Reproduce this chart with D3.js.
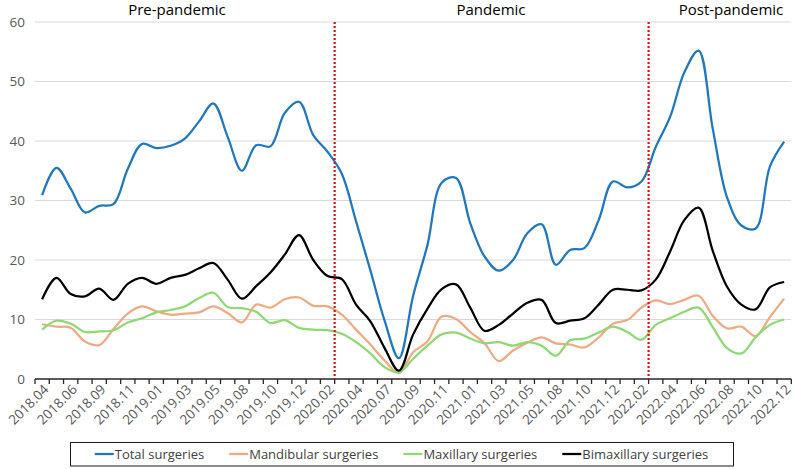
<!DOCTYPE html>
<html><head><meta charset="utf-8">
<script src="https://cdn.jsdelivr.net/npm/d3@7"></script>
<style>
html,body{margin:0;padding:0;background:#fff;}
svg{display:block;font-family:"Open Sans",sans-serif;}
</style></head>
<body><svg id="c" width="794" height="469"></svg>
<script>
const categories = ["2018.04","2018.05","2018.06","2018.08","2018.09","2018.10","2018.11","2018.12",
"2019.01","2019.02","2019.03","2019.04","2019.05","2019.07","2019.08","2019.09","2019.10","2019.11","2019.12",
"2020.01","2020.02","2020.03","2020.04","2020.06","2020.07","2020.08","2020.09","2020.10","2020.11","2020.12",
"2021.01","2021.02","2021.03","2021.04","2021.05","2021.07","2021.08","2021.09","2021.10","2021.11","2021.12",
"2022.01","2022.02","2022.03","2022.04","2022.05","2022.06","2022.07","2022.08","2022.09","2022.10","2022.11","2022.12"];
const tickLabels = categories.filter((d,i)=>i%2===0);
const total = [30.9,35.5,32.0,28.0,29.1,29.4,35.3,39.5,38.8,39.2,40.4,43.3,46.3,40.7,35.0,39.3,39.1,44.7,46.6,41.0,38.2,
34.5,26.5,18.3,9.8,3.5,14.0,22.5,33.0,33.8,26.2,20.6,18.2,20.0,24.5,26.0,19.2,21.7,22.0,26.7,33.2,32.2,33.2,
39.0,44.0,51.5,55.2,42.0,30.5,25.8,25.3,35.7,39.9];
const mandibular = [9.2,8.8,8.6,6.3,5.7,8.4,11.0,12.2,11.4,10.8,11.0,11.2,12.2,11.1,9.5,12.5,12.0,13.4,13.7,12.3,12.2,
10.8,8.3,5.8,3.1,1.0,4.5,6.3,10.5,10.1,7.9,6.0,3.0,4.8,6.1,7.0,6.0,5.8,5.3,7.0,9.3,9.9,12.0,13.2,12.6,13.3,14.0,10.6,8.5,8.8,7.2,10.4,13.5];
const maxillary = [8.3,9.8,9.3,7.9,8.0,8.2,9.5,10.2,11.2,11.6,12.2,13.6,14.5,12.1,11.9,11.3,9.4,9.9,8.6,8.3,8.2,
7.6,6.2,4.3,2.0,1.1,3.4,5.6,7.5,7.8,6.8,6.0,6.2,5.6,6.2,5.6,3.9,6.5,6.8,7.8,8.8,7.9,6.6,9.1,10.2,11.3,12.0,8.7,5.2,4.3,7.0,9.1,10.0];
const bimaxillary = [13.4,17.0,14.3,13.9,15.2,13.3,16.0,17.0,16.0,17.0,17.5,18.6,19.5,16.7,13.5,15.6,17.9,20.9,24.2,20.0,17.3,
16.8,12.5,9.7,5.2,1.4,7.5,11.8,15.1,15.9,12.0,8.1,9.1,11.0,12.8,13.3,9.4,9.8,10.2,12.5,15.0,15.0,14.9,16.7,21.4,26.7,28.8,21.5,15.5,12.5,11.7,15.4,16.3];
const seriesNames = ["Total surgeries","Mandibular surgeries","Maxillary surgeries","Bimaxillary surgeries"];
const seriesColors = ["#1f77c0","#f1a983","#8ed973","#000000"];
const yTicks = [0,10,20,30,40,50,60];
const periodNames = ["Pre-pandemic","Pandemic","Post-pandemic"];
const periodStarts = ["2020.03","2022.03"];

const svg = d3.select("#c");
const L = 35, R = 791.3, T = 22, B = 379;
const x = d3.scaleBand().domain(categories).range([L, R]).padding(0);
const y = d3.scaleLinear().domain([0, 60]).range([B, T]);
const cx = d => x(d) + x.bandwidth()/2;

// gridlines
svg.append("g").selectAll("line").data(yTicks.filter(v=>v>0)).join("line")
  .attr("x1", L).attr("x2", R).attr("y1", d=>y(d)).attr("y2", d=>y(d))
  .attr("stroke", "#d9d9d9").attr("stroke-width", 1);

// y labels
const ya = svg.append("g").attr("transform", `translate(${L},0)`)
  .call(d3.axisLeft(y).tickValues(yTicks).tickSize(0).tickPadding(10));
ya.select(".domain").remove();
ya.selectAll("text").attr("font-size", 13.5).attr("fill", "#595959").attr("font-family", "Open Sans");

// lines
const series = [total, mandibular, maxillary, bimaxillary];
const line = d3.line().x((d,i)=>cx(categories[i])).y(d=>y(d)).curve(d3.curveCatmullRom.alpha(0.5));
[1,2,3,0].forEach(k=>{
  svg.append("path").datum(series[k]).attr("d", line).attr("fill","none")
    .attr("stroke", seriesColors[k]).attr("stroke-width", 2.25).attr("stroke-linejoin","round");
});

// x axis
const xa = svg.append("g").attr("transform", `translate(0,${B})`)
  .call(d3.axisBottom(x).tickValues(tickLabels).tickSize(0).tickPadding(0));
xa.select(".domain").remove();
xa.selectAll("text")
  .attr("font-size", 13.5).attr("fill", "#595959").attr("font-family","Open Sans")
  .attr("text-anchor", "end")
  .attr("transform", "translate(4,8) rotate(-45)")
  .attr("dy", "0.35em").attr("y", 0).attr("x", 0);
svg.append("line").attr("x1", L).attr("x2", R).attr("y1", B).attr("y2", B)
  .attr("stroke", "#262626").attr("stroke-width", 1.3);
const edges = categories.map(c=>x(c)).concat([R]);
svg.append("g").selectAll("line").data(edges).join("line")
  .attr("x1", d=>d).attr("x2", d=>d).attr("y1", B).attr("y2", B+5)
  .attr("stroke", "#262626").attr("stroke-width", 1.3);

// period dividers
svg.append("g").selectAll("line").data(periodStarts).join("line")
  .attr("x1", d=>x(d)).attr("x2", d=>x(d)).attr("y1", y(60)).attr("y2", B)
  .attr("stroke", "#e3110f").attr("stroke-width", 2.2).attr("stroke-dasharray", "2,2");

// period labels
const periodX = [177, 491, 731];
svg.append("g").selectAll("text").data(periodNames).join("text")
  .attr("x", (d,i)=>periodX[i]).attr("y", 15).attr("text-anchor","middle")
  .attr("font-size", 15).attr("fill", "#000").text(d=>d);

// legend
const lg = svg.append("g");
const items = lg.selectAll("g").data(seriesNames).join("g");
items.append("text").attr("font-size", 13).attr("fill","#404040").attr("y", 459).text(d=>d);
const widths = []; items.select("text").each(function(){ widths.push(this.getComputedTextLength()); });
const sampleW = 20, gap = 25;
const totalW = d3.sum(widths) + seriesNames.length*sampleW + (seriesNames.length-1)*gap;
let pos = 401.5 - totalW/2;
items.each(function(d,i){
  const g = d3.select(this);
  g.append("line").attr("x1", pos).attr("x2", pos+sampleW-1).attr("y1", 454).attr("y2", 454)
    .attr("stroke", seriesColors[i]).attr("stroke-width", 2.25);
  g.select("text").attr("x", pos+sampleW);
  pos += sampleW + widths[i] + gap;
});
lg.insert("rect", ":first-child").attr("x", 70.5).attr("y", 442.5).attr("width", 663).attr("height", 23.5)
  .attr("fill","#fff").attr("stroke","#1a1a1a").attr("stroke-width",1);
</script></body></html>
